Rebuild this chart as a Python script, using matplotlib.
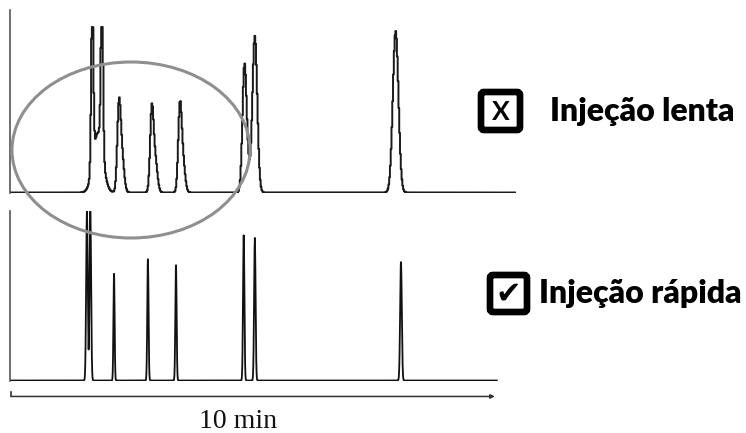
import numpy as np
import matplotlib
matplotlib.use("Agg")
import matplotlib.pyplot as plt
from matplotlib.patches import Ellipse, FancyBboxPatch

# ---------------- data (time in min, intensity in arbitrary units) ----------------
slow_times   = [1.68, 1.80, 1.88, 2.23, 2.29, 2.91, 2.98, 3.49, 3.55, 4.82, 4.86, 5.04, 7.95]
slow_heights = [170,  60,   170,  78,   38,   79,   33,   78,   33,   95,   45,   157,  162]
slow_widths  = [0.022, 0.10, 0.022, 0.035, 0.045, 0.035, 0.045, 0.035, 0.045, 0.04, 0.05, 0.05, 0.058]
slow_end = 10.41
slow_clip = 166

fast_times   = [1.57, 1.64, 2.13, 2.83, 3.41, 4.81, 5.04, 8.06]
fast_heights = [170,  170,  107,  122,  116,  146,  143,  119]
fast_widths  = [0.016, 0.016, 0.012, 0.013, 0.013, 0.014, 0.015, 0.017]
fast_end = 10.04

scale_minutes = 10
scale_label = "10 min"
label_slow = "Injeção lenta"
label_fast = "Injeção rápida"

# ---------------- figure ----------------
W, H = 746, 433
fig = plt.figure(figsize=(W / 100, H / 100), dpi=100)

def fx(px):
    return px / W

def fy(py):
    return 1 - py / H

xlim = (-0.02, 10.52)

def trace(times, heights, widths, t_end, step):
    t = np.arange(0, t_end + step, step)
    y = np.zeros_like(t)
    for c, h, w in zip(times, heights, widths):
        y += h * np.exp(-0.5 * ((t - c) / w) ** 2)
    return t, y

# top chromatogram (slow injection)
ax1 = fig.add_axes([fx(10), fy(193), fx(520) - fx(10), fy(10) - fy(193)])
t1, y1 = trace(slow_times, slow_heights, slow_widths, slow_end, 0.016)
y1 = np.minimum(y1, slow_clip)
ax1.plot(t1, y1, color="#1a1a1a", lw=1.4, drawstyle="steps-mid")
ax1.set_xlim(*xlim)
ax1.set_ylim(-0.5, 183)

# bottom chromatogram (fast injection)
ax2 = fig.add_axes([fx(10), fy(381), fx(520) - fx(10), fy(211) - fy(381)])
t2, y2 = trace(fast_times, fast_heights, fast_widths, fast_end, 0.003)
ax2.plot(t2, y2, color="#111111", lw=1.3)
ax2.set_xlim(*xlim)
ax2.set_ylim(-0.5, 170)

for ax in (ax1, ax2):
    for s in ("top", "right", "bottom"):
        ax.spines[s].set_visible(False)
    ax.spines["left"].set_color("#555555")
    ax.spines["left"].set_linewidth(1.2)
    ax.set_xticks([])
    ax.set_yticks([])
    ax.patch.set_visible(False)

# scale bar
ax2.annotate("", xy=(scale_minutes, -16), xytext=(0, -16),
             arrowprops=dict(arrowstyle="-|>", color="#333333", lw=1.1,
                             mutation_scale=6, shrinkA=0, shrinkB=0),
             annotation_clip=False)
ax2.plot([0, 0], [-16, -12], color="#333333", lw=1.2, clip_on=False)
ax2.text(scale_minutes * 0.47, -41, scale_label, ha="center", va="center",
         fontsize=20, family="Liberation Serif", color="#111111")

# overlay for annotations
ov = fig.add_axes([0, 0, 1, 1])
ov.set_xlim(0, W)
ov.set_ylim(H, 0)
ov.axis("off")
ov.patch.set_visible(False)

ov.add_patch(Ellipse((131, 150), 238, 176, fill=False, edgecolor="#8f8f8f", lw=2.2, zorder=5))

# legend boxes
ov.add_patch(FancyBboxPatch((481, 92), 39, 38, boxstyle="round,pad=0,rounding_size=3",
                            fill=False, edgecolor="black", lw=4.8))
ov.text(500.5, 112, "X", ha="center", va="center", fontsize=19, fontweight="bold",
        family="Lato", color="black")
ov.text(550, 111, label_slow, ha="left", va="center", fontsize=23, fontweight="heavy",
        family="Lato", color="black")

ov.add_patch(FancyBboxPatch((490, 275), 37, 37, boxstyle="round,pad=0,rounding_size=3",
                            fill=False, edgecolor="black", lw=4.8))
ov.text(508.5, 294, "\u2714", ha="center", va="center", fontsize=22,
        family="DejaVu Sans", color="black")
ov.text(539, 293, label_fast, ha="left", va="center", fontsize=23, fontweight="heavy",
        family="Lato", color="black")

fig.savefig("out.png", dpi=100)
